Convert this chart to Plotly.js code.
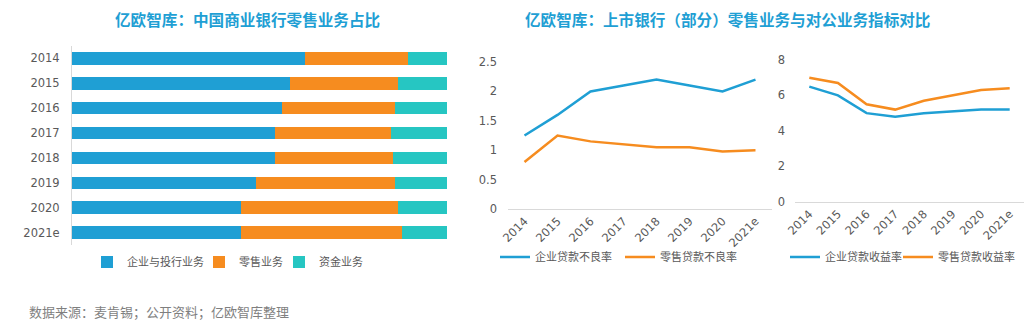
<!DOCTYPE html>
<html><head><meta charset="utf-8">
<script src="https://cdn.plot.ly/plotly-3.0.1.min.js"></script>
<style>html,body{margin:0;padding:0;background:#fff;}#c{width:1024px;height:322px;}</style>
</head><body><div id="c"></div>
<script>
// Left chart: share of business lines (%)
const years = ["2014","2015","2016","2017","2018","2019","2020","2021e"];
const corporateShare = [62, 58, 56, 54, 54, 49, 45, 45];
const retailShare = [27.5, 29, 30, 31, 31.5, 37, 42, 43];
const treasuryShare = [10.5, 13, 14, 15, 14.5, 14, 13, 12];
const shareNames = ["企业与投行业务", "零售业务", "资金业务"];
// Middle chart: NPL ratios (%)
const corpNPL = [1.25, 1.6, 2.0, 2.1, 2.2, 2.1, 2.0, 2.2];
const retailNPL = [0.8, 1.25, 1.15, 1.1, 1.05, 1.05, 0.98, 1.0];
const nplNames = ["企业贷款不良率", "零售贷款不良率"];
// Right chart: loan yields (%)
const corpYield = [6.5, 6.0, 5.0, 4.8, 5.0, 5.1, 5.2, 5.2];
const retailYield = [7.0, 6.7, 5.5, 5.2, 5.7, 6.0, 6.3, 6.4];
const yieldNames = ["企业贷款收益率", "零售贷款收益率"];
const titles = ["亿欧智库：中国商业银行零售业务占比", "亿欧智库：上市银行（部分）零售业务与对公业务指标对比"];
const sourceText = "数据来源：麦肯锡；公开资料；亿欧智库整理";

const BLUE = "#1f9fd4", ORANGE = "#f68c1f", TEAL = "#26c6c2";
const CJK = "Noto Sans CJK SC";
const NUM = "DejaVu Sans";
const GRAY = "#595959";
const W = 1024, H = 322;

const traces = [];
let legN = 1;
const legendIds = [];
function nextLegend() { const id = legN === 1 ? "legend" : "legend" + legN; legN++; legendIds.push(id); return id; }

[[corporateShare, BLUE], [retailShare, ORANGE], [treasuryShare, TEAL]].forEach((p, i) => {
  traces.push({type: "bar", orientation: "h", x: p[0], y: years, name: shareNames[i],
    marker: {color: p[1]}, xaxis: "x", yaxis: "y", legend: nextLegend(), hoverinfo: "none"});
});
[[corpNPL, BLUE], [retailNPL, ORANGE]].forEach((p, i) => {
  traces.push({type: "scatter", mode: "lines", x: years, y: p[0], name: nplNames[i],
    line: {color: p[1], width: 2.5}, xaxis: "x2", yaxis: "y2", legend: nextLegend()});
});
[[corpYield, BLUE], [retailYield, ORANGE]].forEach((p, i) => {
  traces.push({type: "scatter", mode: "lines", x: years, y: p[0], name: yieldNames[i],
    line: {color: p[1], width: 2.5}, xaxis: "x3", yaxis: "y3", legend: nextLegend()});
});

const tickFont = {family: NUM, size: 11.5, color: GRAY};
const legFont = {family: CJK, size: 11, color: GRAY};

const layout = {
  width: W, height: H, margin: {l: 0, r: 0, t: 0, b: 0},
  paper_bgcolor: "#fff", plot_bgcolor: "#fff",
  barmode: "stack", bargap: 0.5, showlegend: true,
  xaxis: {domain: [72/W, 447/W], range: [0, 100], visible: false, fixedrange: true},
  yaxis: {domain: [1 - 245/H, 1 - 46/H], anchor: "x", autorange: "reversed", type: "category",
    showline: true, linecolor: "#d9d9d9", linewidth: 1, showgrid: false, ticks: "",
    tickfont: tickFont, ticklabelstandoff: 9},
  xaxis2: {domain: [508/W, 772/W], anchor: "y2", type: "category", range: [-0.5, 7.5],
    showline: true, linecolor: "#d9d9d9", linewidth: 1, showgrid: false, ticks: "",
    tickangle: -45, tickfont: tickFont},
  yaxis2: {domain: [1 - 209/H, 1 - 62/H], anchor: "x2", range: [0, 2.5], dtick: 0.5,
    showgrid: false, zeroline: false, showline: false, ticks: "", tickfont: tickFont,
    ticklabelstandoff: 10},
  xaxis3: {domain: [795/W, 1], anchor: "y3", type: "category", range: [-0.5, 7.5],
    showline: true, linecolor: "#d9d9d9", linewidth: 1, showgrid: false, ticks: "",
    tickangle: -45, tickfont: tickFont},
  yaxis3: {domain: [1 - 201.7/H, 1 - 60/H], anchor: "x3", range: [0, 8], dtick: 2,
    showgrid: false, zeroline: false, showline: false, ticks: "", tickfont: tickFont,
    ticklabelstandoff: 9},
  annotations: [
    {text: "<b>" + titles[0] + "</b>", xref: "paper", yref: "paper", x: 247/W, y: 1 - 19/H,
     xanchor: "center", yanchor: "middle", showarrow: false, font: {family: CJK, size: 15.6, color: BLUE}},
    {text: "<b>" + titles[1] + "</b>", xref: "paper", yref: "paper", x: 727/W, y: 1 - 19/H,
     xanchor: "center", yanchor: "middle", showarrow: false, font: {family: CJK, size: 15.6, color: BLUE}},
    {text: sourceText, xref: "paper", yref: "paper", x: 27/W, y: 1 - 311/H,
     xanchor: "left", yanchor: "middle", showarrow: false, font: {family: CJK, size: 13, color: "#7f7f7f"}}
  ]
};
// legend placement: text start x (px) and row centre y (px)
const legendPos = [[127, 262], [239, 262], [319, 262], [535, 257], [660, 257], [825, 257], [938, 257]];
legendIds.forEach((id, i) => {
  layout[id] = {orientation: "h", x: (legendPos[i][0] - 40) / W, xanchor: "left",
    y: 1 - legendPos[i][1] / H, yanchor: "middle", font: legFont,
    bgcolor: "rgba(0,0,0,0)", borderwidth: 0, itemwidth: 30};
});
Plotly.newPlot("c", traces, layout, {displayModeBar: false, staticPlot: true});
</script></body></html>
